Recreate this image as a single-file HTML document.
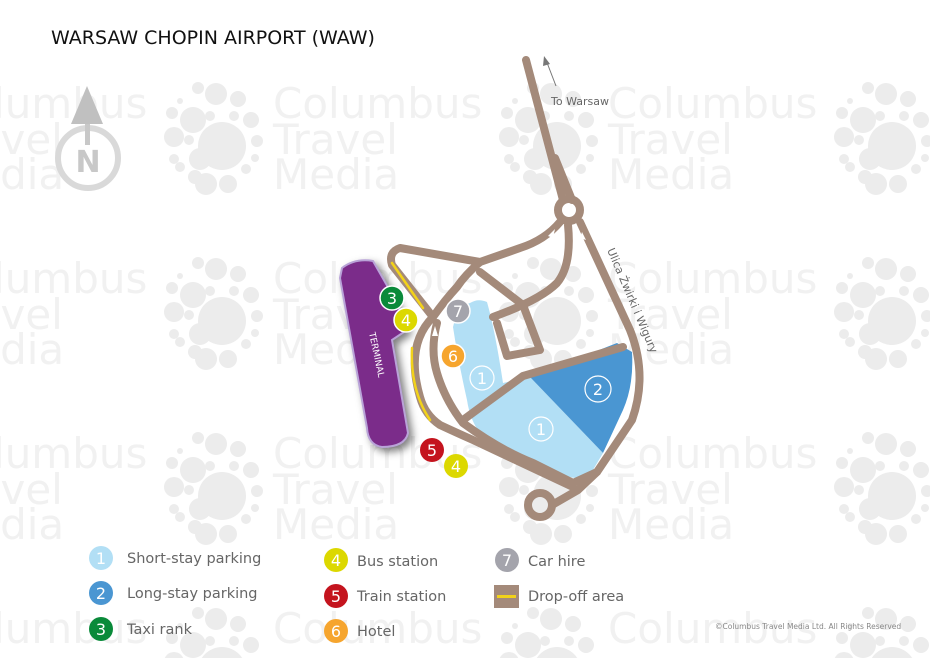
<!DOCTYPE html>
<html><head><meta charset="utf-8"><style>
html,body{margin:0;padding:0;background:#fff;overflow:hidden;width:930px;height:658px;}
svg{display:block;}
text{font-family:"DejaVu Sans","Liberation Sans",sans-serif;}
</style></head><body>
<svg width="930" height="658" viewBox="0 0 930 658" xmlns="http://www.w3.org/2000/svg">
<defs>
<g id="fl" fill="#ececec">
<circle cx="0" cy="0" r="24"/>
<circle cx="-29" cy="-26" r="13"/><circle cx="-6" cy="-52" r="11"/><circle cx="-24" cy="-58" r="6"/>
<circle cx="16" cy="-47" r="8"/><circle cx="29" cy="-26" r="8"/><circle cx="-12" cy="-30" r="5"/>
<circle cx="12" cy="-30" r="5"/><circle cx="35" cy="-5" r="6"/><circle cx="33" cy="12" r="4"/>
<circle cx="24" cy="23" r="5"/><circle cx="6" cy="38" r="9"/><circle cx="-16" cy="38" r="11"/>
<circle cx="-27" cy="31" r="7"/><circle cx="-42" cy="21" r="5"/><circle cx="-22" cy="13" r="11"/>
<circle cx="-48" cy="-9" r="10"/><circle cx="-48" cy="13" r="5"/><circle cx="-33" cy="-6" r="5"/>
<circle cx="-50" cy="-33" r="6"/><circle cx="-42" cy="-45" r="3"/>
</g>
<g id="wm">
<use href="#fl" x="222" y="146"/>
<text x="273" y="118" font-family="Liberation Sans,sans-serif" font-size="42" fill="#f1f1f1"><tspan x="273">Columbus</tspan><tspan x="273" dy="36">Travel</tspan><tspan x="273" dy="35">Media</tspan></text>
</g>
<g id="wm2">
<use href="#fl" x="222" y="146"/>
<text x="273" y="118" font-family="Liberation Sans,sans-serif" font-size="42" fill="#f1f1f1">Columbus</text>
</g>
<clipPath id="c"><rect width="930" height="658"/></clipPath>
</defs>
<g clip-path="url(#c)">
<use href="#wm" x="-335" y="0"/><use href="#wm" x="0" y="0"/><use href="#wm" x="335" y="0"/><use href="#wm" x="670" y="0"/>
<use href="#wm" x="-335" y="175"/><use href="#wm" x="0" y="175"/><use href="#wm" x="335" y="175"/><use href="#wm" x="670" y="175"/>
<use href="#wm" x="-335" y="350"/><use href="#wm" x="0" y="350"/><use href="#wm" x="335" y="350"/><use href="#wm" x="670" y="350"/>
<use href="#wm2" x="-335" y="525"/><use href="#wm2" x="0" y="525"/><use href="#wm2" x="335" y="525"/><use href="#wm2" x="670" y="525"/>
</g>

<text x="51" y="44" font-size="19" fill="#111">WARSAW CHOPIN AIRPORT (WAW)</text>

<circle cx="88" cy="158" r="30" fill="none" stroke="#d9d9d9" stroke-width="6"/>
<rect x="85" y="115" width="5" height="30" fill="#c8c8c8"/>
<polygon points="87,86 71,124 103,124" fill="#c0c0c0"/>
<text x="88" y="172" font-size="30" font-weight="bold" fill="#c8c8c8" text-anchor="middle">N</text>

<path d="M470,303 Q478,298 487,302 Q495,330 503,383 L530,377 L603,453 L587,480 Q555,475 530,467 Q495,450 480,433 Q470,420 467,400 Q458,360 453,327 Q458,305 470,303 Z" fill="#b2dff5"/>
<path d="M530,377 L617,343 L632,352 Q634,385 623,410 L603,453 Z" fill="#4a96d2"/>

<path d="M342,268 Q355,258 373,261 L397,303 L407,330 L392,340 L408,433 Q405,447 382,447 Q368,445 367,428 L340,278 Z" fill="#7b2c8a" stroke="#b9a3d8" stroke-width="2" style="filter:drop-shadow(4px 4px 4px rgba(0,0,0,.5))"/>
<text x="0" y="0" font-size="9" fill="#fff" transform="translate(369,333) rotate(78)">TERMINAL</text>

<g fill="none" stroke="#a48a7a" stroke-width="8" stroke-linecap="round" stroke-linejoin="round">
<path d="M526,60 L563,200"/>
<path d="M555,158 L572,200"/>
<circle cx="569" cy="210" r="11"/>
<path d="M580,222 L630,330 Q648,375 632,420 L597,472 L578,490 L552,505"/>
<circle cx="540" cy="505" r="12"/>
<path d="M560,222 Q545,240 520,248 L480,262 Q440,255 400,248 Q388,252 392,265 L433,317"/>
<path d="M568,225 Q572,265 557,283 Q540,300 493,317"/>
<path d="M480,262 Q465,275 457,287 Q445,300 433,317"/>
<path d="M480,272 L523,305 L540,350 L507,356 L497,323"/>
<path d="M433,317 Q405,345 420,397 Q425,415 440,425 Q455,432 473,440 L573,487"/>
<path d="M437,323 Q430,350 437,373 Q445,400 463,423 Q500,450 533,463 L573,483 L597,472"/>
<path d="M463,420 L523,376 L623,347"/>
</g>
<g fill="none" stroke="#f2d21a" stroke-width="2.5" stroke-linecap="round">
<path d="M392,263 L423,308"/>
<path d="M412,348 Q410,390 430,420"/>
</g>
<g fill="#fff"><polygon points="432,336 435,326 438,336"/><polygon points="548,236 555,229 553,238"/><polygon points="582,232 586,240 580,238"/></g>

<g font-size="16" fill="#fff" text-anchor="middle">
<circle cx="392" cy="298" r="12" fill="#0a8a3a" stroke="#fff" stroke-width="1.5"/><text x="392" y="304">3</text>
<circle cx="406" cy="320" r="12" fill="#dcd800" stroke="#fff" stroke-width="1.5"/><text x="406" y="326">4</text>
<circle cx="458" cy="311" r="12" fill="#a4a4ac" stroke="#fff" stroke-width="1.5"/><text x="458" y="317">7</text>
<circle cx="453" cy="356" r="12" fill="#f6a52e" stroke="#fff" stroke-width="1.5"/><text x="453" y="362">6</text>
<circle cx="432" cy="450" r="12" fill="#c4141e"/><text x="432" y="456">5</text>
<circle cx="456" cy="466" r="12" fill="#dcd800"/><text x="456" y="472">4</text>
<circle cx="482" cy="378" r="12" fill="none" stroke="#fff" stroke-width="1.2"/><text x="482" y="384">1</text>
<circle cx="541" cy="429" r="12" fill="none" stroke="#fff" stroke-width="1.2"/><text x="541" y="435">1</text>
<circle cx="598" cy="389" r="13" fill="none" stroke="#fff" stroke-width="1.2"/><text x="598" y="395">2</text>
</g>

<line x1="556" y1="86" x2="546" y2="60" stroke="#777" stroke-width="1"/>
<polygon points="544,56 543,66 550,64" fill="#777"/>
<text x="551" y="105" font-size="11" fill="#666">To Warsaw</text>
<text font-size="11" fill="#666" transform="translate(607,250) rotate(67)">Ulica Żwirki i Wigury</text>

<g font-size="14.5" fill="#666">
<circle cx="101" cy="558" r="12" fill="#b2dff5"/><text x="101" y="564" fill="#fff" text-anchor="middle" font-size="16">1</text><text x="127" y="563">Short-stay parking</text>
<circle cx="101" cy="593" r="12" fill="#4a96d2"/><text x="101" y="599" fill="#fff" text-anchor="middle" font-size="16">2</text><text x="127" y="598">Long-stay parking</text>
<circle cx="101" cy="629" r="12" fill="#0a8a3a"/><text x="101" y="635" fill="#fff" text-anchor="middle" font-size="16">3</text><text x="127" y="634">Taxi rank</text>
<circle cx="336" cy="560" r="12" fill="#dcd800"/><text x="336" y="566" fill="#fff" text-anchor="middle" font-size="16">4</text><text x="357" y="566">Bus station</text>
<circle cx="336" cy="596" r="12" fill="#c4141e"/><text x="336" y="602" fill="#fff" text-anchor="middle" font-size="16">5</text><text x="357" y="601">Train station</text>
<circle cx="336" cy="631" r="12" fill="#f6a52e"/><text x="336" y="637" fill="#fff" text-anchor="middle" font-size="16">6</text><text x="357" y="636">Hotel</text>
<circle cx="507" cy="560" r="12" fill="#a4a4ac"/><text x="507" y="566" fill="#fff" text-anchor="middle" font-size="16">7</text><text x="528" y="566">Car hire</text>
<rect x="494" y="585" width="25" height="23" fill="#a48a7a"/><rect x="497" y="595" width="19" height="3" fill="#f2d21a"/><text x="528" y="601">Drop-off area</text>
</g>
<text x="715" y="629" font-size="7.5" fill="#888">©Columbus Travel Media Ltd. All Rights Reserved</text>
</svg>
</body></html>
